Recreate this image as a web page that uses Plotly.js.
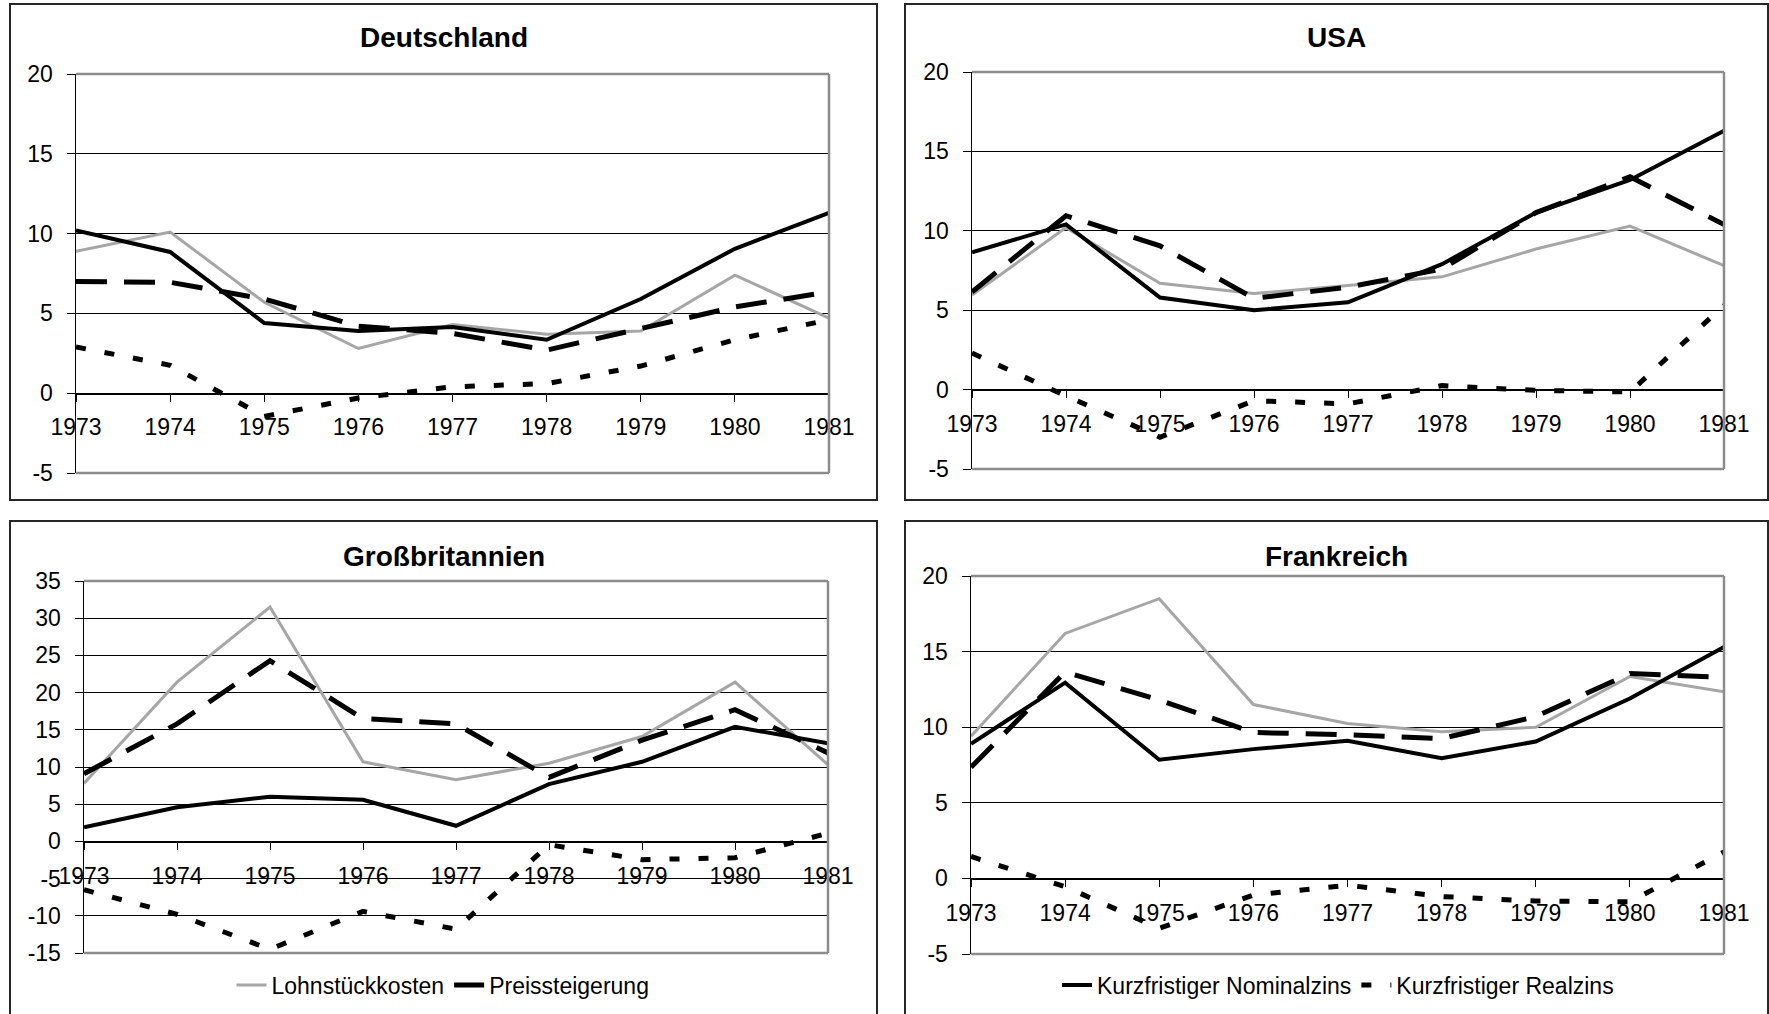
<!DOCTYPE html>
<html>
<head>
<meta charset="utf-8">
<script src="https://cdn.plot.ly/plotly-3.0.1.min.js"></script>
<style>
html,body{margin:0;padding:0;background:#fff;}
#chart{width:1769px;height:1014px;}
</style>
</head>
<body>
<div id="chart"></div>
<script>
// ---------- DATA ----------
const years = [1973, 1974, 1975, 1976, 1977, 1978, 1979, 1980, 1981];
const countries = ['Deutschland', 'USA', 'Großbritannien', 'Frankreich'];
const seriesNames = ['Lohnstückkosten', 'Preissteigerung', 'Kurzfristiger Nominalzins', 'Kurzfristiger Realzins'];

const deLohn    = [8.9, 10.1, 5.7, 2.8, 4.3, 3.7, 3.9, 7.4, 4.7];
const dePreis   = [7.0, 6.95, 5.9, 4.2, 3.75, 2.7, 4.05, 5.4, 6.35];
const deNominal = [10.2, 8.85, 4.4, 3.9, 4.15, 3.35, 5.9, 9.05, 11.3];
const deReal    = [2.9, 1.75, -1.45, -0.3, 0.4, 0.6, 1.7, 3.35, 4.6];

const usLohn    = [5.95, 10.2, 6.7, 6.05, 6.55, 7.1, 8.85, 10.3, 7.8];
const usPreis   = [6.15, 10.95, 9.05, 5.75, 6.45, 7.6, 11.15, 13.4, 10.4];
const usNominal = [8.65, 10.4, 5.8, 5.0, 5.5, 7.9, 11.15, 13.2, 16.3];
const usReal    = [2.3, -0.4, -3.0, -0.7, -0.9, 0.25, -0.05, -0.15, 5.3];

const gbLohn    = [7.8, 21.4, 31.5, 10.7, 8.3, 10.5, 14.1, 21.4, 10.3];
const gbPreis   = [9.1, 15.8, 24.3, 16.5, 15.8, 8.6, 13.6, 17.7, 11.9];
const gbNominal = [1.9, 4.6, 6.0, 5.6, 2.1, 7.7, 10.7, 15.4, 13.2];
const gbReal    = [-6.5, -9.8, -14.5, -9.4, -11.8, -0.45, -2.45, -2.2, 1.1];

const frLohn    = [9.4, 16.2, 18.5, 11.5, 10.25, 9.7, 10.0, 13.35, 12.35];
const frPreis   = [7.35, 13.65, 11.8, 9.65, 9.5, 9.25, 10.7, 13.55, 13.3];
const frNominal = [8.9, 12.95, 7.85, 8.55, 9.1, 7.95, 9.05, 11.9, 15.3];
const frReal    = [1.45, -0.55, -3.3, -1.1, -0.45, -1.2, -1.5, -1.55, 1.75];

const yRanges = [[-5, 20], [-5, 20], [-15, 35], [-5, 20]];
const yTickStep = 5;

// ---------- LAYOUT GEOMETRY (pixels) ----------
const W = 1769, H = 1014;
const fx = p => p / W;
const fy = p => 1 - p / H;

const panels = [
  {plot: [76, 829, 74, 473],   box: [10, 877, 4, 500],    titleY: 38},
  {plot: [972, 1724, 72, 469], box: [905, 1768, 4, 500],  titleY: 38},
  {plot: [84, 828, 581, 953],  box: [10, 877, 521, 1030], titleY: 556},
  {plot: [971, 1724, 576, 954],box: [905, 1768, 521, 1030], titleY: 556}
];

const seriesData = [
  [deLohn, dePreis, deNominal, deReal],
  [usLohn, usPreis, usNominal, usReal],
  [gbLohn, gbPreis, gbNominal, gbReal],
  [frLohn, frPreis, frNominal, frReal]
];

const lineStyles = [
  {color: '#a6a6a6', width: 3, dash: 'solid'},
  {color: '#000000', width: 5, dash: '31px,17px'},
  {color: '#000000', width: 4, dash: 'solid'},
  {color: '#000000', width: 5, dash: '10px,19px'}
];

const FONT = 'Liberation Sans, Arial, Helvetica, sans-serif';

const traces = [];
const layout = {
  width: W, height: H,
  margin: {l: 0, r: 0, t: 0, b: 0, pad: 0},
  paper_bgcolor: '#ffffff',
  plot_bgcolor: 'rgba(0,0,0,0)',
  font: {family: FONT, size: 23, color: '#000'},
  shapes: [],
  annotations: [],
  legend: {
    orientation: 'h', x: fx(443), y: fy(985), xanchor: 'center', yanchor: 'middle',
    font: {family: FONT, size: 23, color: '#000'}, bgcolor: 'rgba(0,0,0,0)',
    itemwidth: 30, tracegroupgap: 0
  },
  legend2: {
    orientation: 'h', x: fx(1338), y: fy(985), xanchor: 'center', yanchor: 'middle',
    font: {family: FONT, size: 23, color: '#000'}, bgcolor: 'rgba(0,0,0,0)',
    itemwidth: 30, tracegroupgap: 0
  }
};

panels.forEach((p, i) => {
  const n = i === 0 ? '' : String(i + 1);
  const xName = 'x' + n, yName = 'y' + n;
  const xKey = 'xaxis' + n, yKey = 'yaxis' + n;
  const [x0, x1, yTop, yBot] = p.plot;
  const yDom = [fy(yBot), fy(yTop)];
  const yr = yRanges[i];
  const zeroPos = yDom[0] + (0 - yr[0]) / (yr[1] - yr[0]) * (yDom[1] - yDom[0]);
  const yTicks = [];
  for (let v = yr[0]; v <= yr[1]; v += yTickStep) yTicks.push(v);

  layout[xKey] = {
    domain: [fx(x0), fx(x1)],
    range: [years[0], years[years.length - 1]],
    anchor: 'free', position: zeroPos,
    tickvals: years, ticktext: years.map(String),
    ticks: 'outside', ticklen: 7, tickwidth: 1, tickcolor: '#000',
    showline: true, linecolor: '#000', linewidth: 1.5,
    showgrid: false, zeroline: false,
    tickfont: {family: FONT, size: 23, color: '#000'},
    ticklabelstandoff: 6,
    fixedrange: true
  };
  layout[yKey] = {
    domain: yDom,
    range: yr,
    anchor: xName,
    tickvals: yTicks, ticktext: yTicks.map(String),
    ticks: 'outside', ticklen: 8, tickwidth: 1, tickcolor: '#000',
    showline: true, linecolor: '#000', linewidth: 1.5,
    showgrid: true, gridcolor: '#000', gridwidth: 1,
    zeroline: false,
    tickfont: {family: FONT, size: 23, color: '#000'},
    ticklabelstandoff: 9,
    fixedrange: true
  };

  // plot-area gray border (top, right, bottom)
  const gray = {color: '#8c8c8c', width: 2.5};
  layout.shapes.push(
    {type: 'line', xref: xName + ' domain', yref: yName + ' domain', x0: 0, x1: 1, y0: 1, y1: 1, line: gray, layer: 'above'},
    {type: 'line', xref: xName + ' domain', yref: yName + ' domain', x0: 1, x1: 1, y0: 0, y1: 1, line: gray, layer: 'above'},
    {type: 'line', xref: xName + ' domain', yref: yName + ' domain', x0: 0, x1: 1, y0: 0, y1: 0, line: gray, layer: 'above'}
  );
  // panel frame
  const [bx0, bx1, by0, by1] = p.box;
  layout.shapes.push({
    type: 'rect', xref: 'paper', yref: 'paper',
    x0: fx(bx0), x1: fx(bx1), y0: fy(by1), y1: fy(by0),
    line: {color: '#262626', width: 2}, fillcolor: 'rgba(0,0,0,0)', layer: 'below'
  });
  // panel title
  layout.annotations.push({
    xref: 'paper', yref: 'paper', x: fx((bx0 + bx1) / 2), y: fy(p.titleY),
    xanchor: 'center', yanchor: 'middle', showarrow: false,
    text: '<b>' + countries[i] + '</b>',
    font: {family: FONT, size: 28, color: '#000'}
  });

  seriesData[i].forEach((vals, s) => {
    let showlegend = false, legend = 'legend';
    if (i === 2 && s < 2) { showlegend = true; legend = 'legend'; }
    if (i === 3 && s >= 2) { showlegend = true; legend = 'legend2'; }
    traces.push({
      type: 'scatter', mode: 'lines',
      x: years, y: vals,
      xaxis: xName, yaxis: yName,
      name: seriesNames[s],
      line: Object.assign({}, lineStyles[s]),
      showlegend: showlegend, legend: legend,
      hoverinfo: 'skip'
    });
  });
});

Plotly.newPlot('chart', traces, layout, {displayModeBar: false, staticPlot: true});
</script>
</body>
</html>
